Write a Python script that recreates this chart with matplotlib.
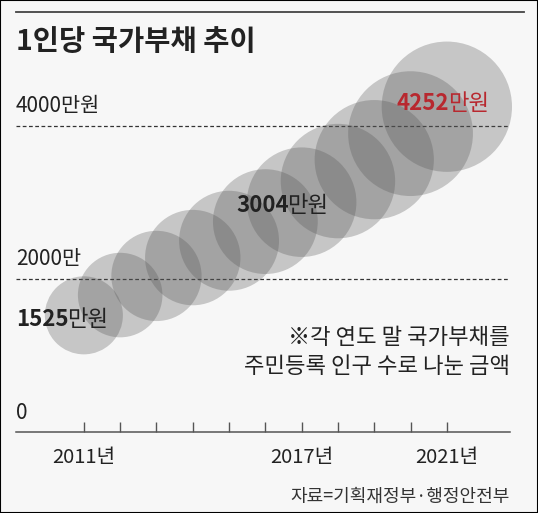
import matplotlib.pyplot as plt
from matplotlib.lines import Line2D
from matplotlib.patches import Rectangle

plt.rcParams['font.family'] = ['Noto Sans CJK KR', 'DejaVu Sans']

# data (만원 per person)
years = [2011, 2012, 2013, 2014, 2015, 2016, 2017, 2018, 2019, 2020, 2021]
debt_per_capita = [1525, 1790, 2040, 2280, 2500, 2750, 3004, 3280, 3560, 3900, 4252]
tick_labels = ['2011년', '', '', '', '', '', '2017년', '', '', '', '2021년']
grid_values = [2000, 4000]
grid_labels = ['2000만', '4000만원']

bg = '#f7f7f7'
dark = '#222222'
red = '#b8282f'

fig = plt.figure(figsize=(5.38, 5.13), dpi=100, facecolor=bg)
ax = fig.add_axes([16 / 538, 1 - 432 / 513, 494 / 538, 392 / 513])
ax.set_facecolor('none')
ax.set_xlim(2009.13, 2022.74)
ax.set_ylim(0, 5124)

for side in ['top', 'right', 'left']:
    ax.spines[side].set_visible(False)
ax.spines['bottom'].set_color('#555555')
ax.spines['bottom'].set_linewidth(1.1)

ax.set_xticks(years)
ax.set_xticklabels(tick_labels)
ax.tick_params(axis='x', direction='in', length=7.5, width=1, color='#555555',
               pad=11, labelsize=14.5, labelcolor=dark)
ax.set_yticks([])

# dashed guide lines with their labels
for val, lab in zip(grid_values, grid_labels):
    ax.axhline(val, ls=(0, (3, 2)), color='#333333', lw=0.9, zorder=1)
    ax.annotate(lab, xy=(0, val), xycoords=ax.get_yaxis_transform(),
                xytext=(0, 14.5), textcoords='offset points',
                va='center', ha='left', fontsize=15, color=dark)
ax.annotate('0', xy=(0, 0), xycoords=ax.get_yaxis_transform(),
            xytext=(0, 14), textcoords='offset points',
            va='center', ha='left', fontsize=15, color=dark)

# bubbles, area grows with the value
sizes = [2.07 * v for v in debt_per_capita]
ax.scatter(years, debt_per_capita, s=sizes, color='#555555', alpha=0.3,
           edgecolors='none', clip_on=False, zorder=2)


def value_label(x, y, num, color, trans=None):
    kw = {} if trans is None else {'transform': trans}
    t = ax.text(x, y, num, fontsize=16, fontweight='bold', color=color,
                va='center', ha='left', zorder=5, **kw)
    ax.annotate('만원', xy=(1, 0.5), xycoords=t, xytext=(-1.2, 0),
                textcoords='offset points', va='center', ha='left',
                fontsize=16, color=color, zorder=5)


value_label(0, 1464, '1525', dark, trans=ax.get_yaxis_transform())
value_label(2015.2, 2967, '3004', dark)
value_label(2019.62, 4300, '4252', red)

# note and source
fig.text(510 / 538, 1 - 352 / 513, '※각 연도 말 국가부채를\n주민등록 인구 수로 나눈 금액',
         ha='right', va='center', multialignment='right', linespacing=1.35,
         fontsize=16, color=dark)
fig.text(510 / 538, 1 - 497 / 513, '자료=기획재정부·행정안전부', ha='right',
         va='center', fontsize=13, color='#333333')

# title and top rule
fig.text(16 / 538, 1 - 42 / 513, '1인당 국가부채 추이', fontsize=20.5,
         fontweight='bold', va='center', color=dark)
fig.add_artist(Line2D([16 / 538, 524 / 538], [1 - 12 / 513] * 2,
                      color='#444444', lw=1.3))
fig.add_artist(Rectangle((0, 0), 1, 1, transform=fig.transFigure, fill=False,
                         edgecolor='black', lw=1.5))

fig.savefig('out.png', dpi=100, facecolor=bg)
